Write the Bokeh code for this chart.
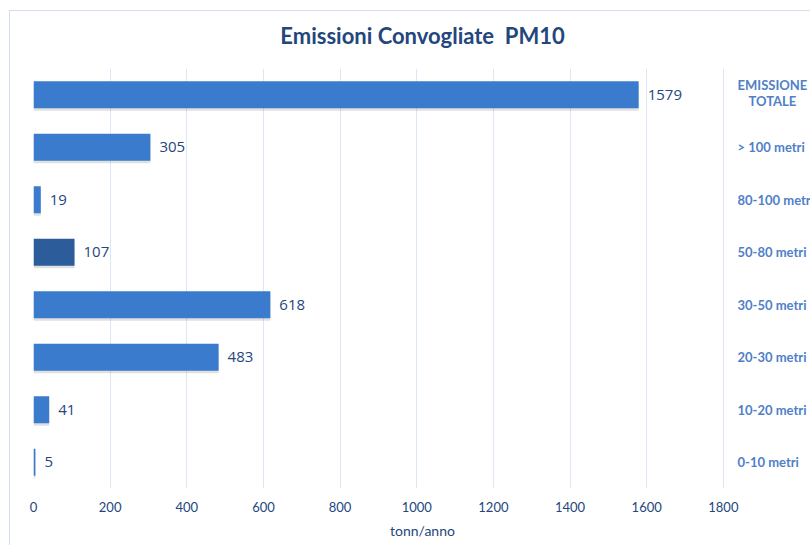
from bokeh.plotting import figure
from bokeh.models import ColumnDataSource, FactorRange, Range1d, FixedTicker, Title
from bokeh.transform import dodge
from bokeh.core.properties import value
from bokeh.embed import file_html
from bokeh.resources import INLINE

# data (bottom to top)
title_text = "Emissioni Convogliate\u00a0 PM10"
categories = ["0-10 metri", "10-20 metri", "20-30 metri", "30-50 metri",
              "50-80 metri", "80-100 metri", "> 100 metri", "EMISSIONE\nTOTALE"]
values = [5, 41, 483, 618, 107, 19, 305, 1579]
bar_colors = ["#3a7bcd", "#3a7bcd", "#3a7bcd", "#3a7bcd",
              "#2d5c9a", "#3a7bcd", "#3a7bcd", "#3a7bcd"]
x_ticks = [0, 200, 400, 600, 800, 1000, 1200, 1400, 1600, 1800]

src = ColumnDataSource(dict(cat=categories, val=values, color=bar_colors,
                            label=[str(v) for v in values]))

p = figure(width=801, height=535, output_backend="svg", toolbar_location=None,
           y_range=FactorRange(factors=categories), x_range=Range1d(0, 2030),
           y_axis_location=None, min_border_left=23, min_border_right=0,
           min_border_top=57, min_border_bottom=58)
p.margin = (10, 0, 0, 9)
p.outline_line_color = None
p.styles = {"border-top": "1px solid #d3def0", "border-left": "1px solid #d3def0"}

p.title.text = title_text
p.title.align = "center"
p.title.text_font = "Lato"
p.title.text_font_size = "22px"
p.title.text_font_style = "bold"
p.title.text_color = "#23467d"
p.title.standoff = 0
# spacer between title and plot area
p.add_layout(Title(text=" ", text_font_size="12px", standoff=4), "above")

p.xgrid.ticker = FixedTicker(ticks=x_ticks)
p.xgrid.grid_line_color = "#dce6f4"
p.ygrid.grid_line_color = None

ax = p.xaxis[0]
ax.ticker = FixedTicker(ticks=x_ticks)
ax.axis_line_color = None
ax.major_tick_line_color = None
ax.minor_tick_line_color = None
ax.major_label_standoff = 7
ax.major_label_text_font = "Lato"
ax.major_label_text_font_size = "13px"
ax.major_label_text_color = "#23467d"
ax.axis_label = "tonn/anno"
ax.axis_label_text_font = "Lato"
ax.axis_label_text_font_size = "14px"
ax.axis_label_text_font_style = "normal"
ax.axis_label_text_color = "#23467d"
ax.axis_label_standoff = 7

# shadow
p.hbar(y=dodge("cat", -0.05, range=p.y_range), left=0, right="val", height=0.51,
       source=src, fill_color="#000000", fill_alpha=0.12, line_color=None)
p.hbar(y="cat", left=0, right="val", height=0.51, source=src,
       fill_color="color", line_color=None)

p.text(x="val", y="cat", text="label", source=src, x_offset=9,
       text_baseline="middle", text_align="left",
       text_font=value("Open Sans"), text_font_size="15px", text_color="#26467d")

cat_src = ColumnDataSource(dict(cat=categories[:-1]))
p.text(x=1837, y="cat", text="cat", source=cat_src, text_baseline="middle",
       text_align="left", text_font=value("Lato"), text_font_size="13px",
       text_font_style="bold", text_color="#5080c8")
tot_src = ColumnDataSource(dict(cat=categories[-1:]))
p.text(x=1928, y="cat", text="cat", source=tot_src, y_offset=-2,
       text_baseline="middle",
       text_align="center", text_font=value("Lato"), text_font_size="13px",
       text_font_style="bold", text_color="#5080c8", text_line_height=1.0)

open("out.html", "w").write(file_html(p, INLINE))
